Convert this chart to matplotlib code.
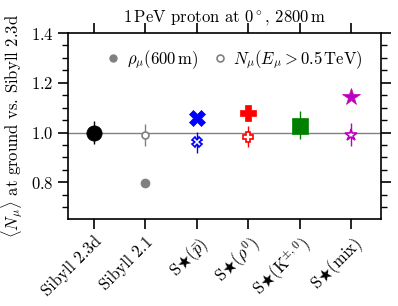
import numpy as np
import matplotlib
matplotlib.use('Agg')
import matplotlib.pyplot as plt
from matplotlib.ticker import MultipleLocator

plt.rcParams['font.family'] = 'serif'
plt.rcParams['font.serif'] = ['cmr10']
plt.rcParams['mathtext.fontset'] = 'cm'
plt.rcParams['axes.formatter.use_mathtext'] = True
plt.rcParams['font.size'] = 12

# data
models = ['Sibyll 2.3d', 'Sibyll 2.1', r'S$\bigstar(\bar{p})$', r'S$\bigstar(\rho^0)$',
          r'S$\bigstar(\mathrm{K}^{\pm,0})$', r'S$\bigstar(\mathrm{mix})$']
colors = ['black', 'gray', 'blue', 'red', 'green', 'm']
markers = ['o', 'o', 'X', 'P', 's', '*']
rho_600 = [1.00, 0.797, 1.059, 1.079, 1.028, 1.142]     # filled
n_mu = [1.00, 0.99, 0.961, 0.983, 1.03, 0.992]          # open
n_mu_err = [0.048, 0.046, 0.043, 0.042, 0.055, 0.045]

x = np.arange(len(models))

fig = plt.figure(figsize=(3.98, 3.06), dpi=100)
ax = fig.add_axes([0.171, 0.284, 0.786, 0.608])

ax.axhline(1.0, color='gray', lw=1.0, zorder=1)

for i in range(len(models)):
    ms_open = 7
    if markers[i] == 'o':
        ms_open = 5
    if markers[i] == '*':
        ms_open = 9
    ax.errorbar(x[i], n_mu[i], yerr=n_mu_err[i], fmt=markers[i], color=colors[i],
                mfc='white', mec=colors[i], mew=1.2, ms=ms_open, elinewidth=1.0,
                capsize=0, zorder=2)
for i in range(len(models)):
    ms_fill = 11 if markers[i] != '*' else 13
    if i == 1:
        ms_fill = 6.5
    ax.plot(x[i], rho_600[i], marker=markers[i], color=colors[i], ms=ms_fill,
            ls='none', mew=0.5, zorder=3)

h1, = ax.plot([], [], 'o', color='gray', ms=5)
h2, = ax.plot([], [], 'o', mfc='white', mec='gray', mew=1.2, ms=5)
ax.legend([h1, h2], [r'$\rho_\mu(600\,\mathrm{m})$', r'$N_\mu(E_\mu > 0.5\,\mathrm{TeV})$'],
          loc='upper right', ncol=2, frameon=False, handletextpad=0.3,
          columnspacing=0.8, handlelength=1.0, fontsize=12, bbox_to_anchor=(0.99, 1.0))

ax.set_xlim(-0.5, 5.58)
ax.set_ylim(0.652, 1.4)
ax.set_xticks(x)
ax.set_xticklabels(models, rotation=45, ha='right', rotation_mode='anchor')
ax.set_yticks([0.8, 1.0, 1.2, 1.4])
ax.yaxis.set_minor_locator(MultipleLocator(0.05))
ax.tick_params(axis='x', which='major', direction='out', length=7, width=1.2,
               top=True, bottom=True)
ax.tick_params(axis='y', which='major', direction='out', length=7, width=1.2,
               left=True, right=True)
ax.tick_params(axis='y', which='minor', direction='out', length=4, width=1.0,
               left=True, right=True)
for s in ax.spines.values():
    s.set_linewidth(1.2)

ax.set_ylabel(r'$\langle N_\mu \rangle$ at ground vs. Sibyll 2.3d')
ax.set_title(r'1$\,$PeV proton at $0^\circ$, 2800$\,$m', pad=8, fontsize=12)

plt.savefig('out.png', dpi=100)
